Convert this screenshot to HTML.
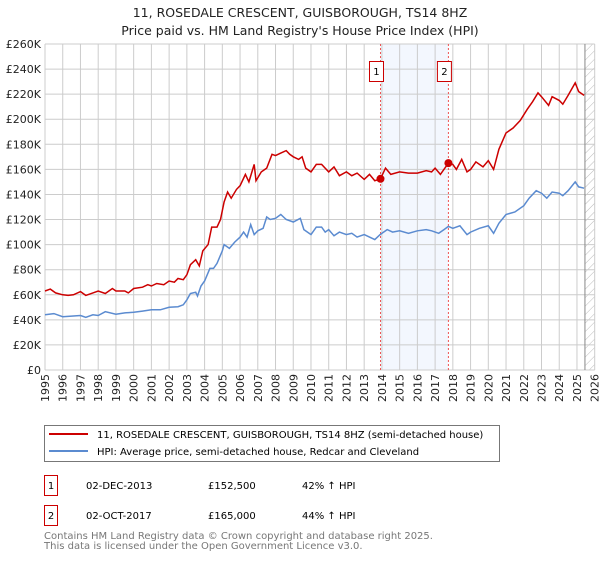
<!DOCTYPE html>
<html><head><meta charset="utf-8"><style>
body{margin:0;background:#fff;font-family:"Liberation Sans","DejaVu Sans",sans-serif;}
svg text{font-family:"DejaVu Sans","Liberation Sans",sans-serif;}
</style></head><body>
<svg id="chart" width="600" height="560" xmlns="http://www.w3.org/2000/svg">
<text x="300" y="17" font-size="12.5" text-anchor="middle" fill="#222">11, ROSEDALE CRESCENT, GUISBOROUGH, TS14 8HZ</text>
<text x="300" y="35" font-size="12.5" text-anchor="middle" fill="#222">Price paid vs. HM Land Registry's House Price Index (HPI)</text>
<defs><pattern id="hatch" patternUnits="userSpaceOnUse" width="6" height="6" patternTransform="rotate(45)"><line x1="0" y1="0" x2="0" y2="6" stroke="#bbb" stroke-width="1"/></pattern></defs>
<g id="grid"></g><g id="marks"></g><g id="axes"></g>
<g>
<rect x="44.5" y="425.5" width="455" height="36" fill="#fff" stroke="#777"/>
<line x1="49" y1="434" x2="88" y2="434" stroke="#cc0000" stroke-width="2"/>
<text x="97" y="438" font-size="10" fill="#000">11, ROSEDALE CRESCENT, GUISBOROUGH, TS14 8HZ (semi-detached house)</text>
<line x1="49" y1="451" x2="88" y2="451" stroke="#5b8bd0" stroke-width="2"/>
<text x="97" y="455" font-size="10" fill="#000">HPI: Average price, semi-detached house, Redcar and Cleveland</text>
</g>
<g font-size="10" fill="#000">
<rect x="44.5" y="475.5" width="13" height="20" fill="none" stroke="#cc0000"/><text x="51" y="489" text-anchor="middle">1</text>
<text x="86" y="489">02-DEC-2013</text><text x="208" y="489">£152,500</text><text x="302" y="489">42% ↑ HPI</text>
<rect x="44.5" y="505.5" width="13" height="20" fill="none" stroke="#cc0000"/><text x="51" y="519" text-anchor="middle">2</text>
<text x="86" y="519">02-OCT-2017</text><text x="208" y="519">£165,000</text><text x="302" y="519">44% ↑ HPI</text>
</g>
<text x="44" y="539" font-size="10" fill="#777">Contains HM Land Registry data © Crown copyright and database right 2025.</text>
<text x="44" y="549" font-size="10" fill="#777">This data is licensed under the Open Government Licence v3.0.</text>
</svg>
<script>
const hpiYears=[1995,1995.5,1996,1996.5,1997,1997.3,1997.7,1998,1998.4,1999,1999.5,2000,2000.5,2001,2001.5,2002,2002.5,2002.8,2003,2003.2,2003.5,2003.6,2003.8,2004,2004.3,2004.5,2004.7,2005,2005.1,2005.4,2005.7,2006,2006.2,2006.4,2006.6,2006.8,2007,2007.3,2007.5,2007.7,2008,2008.3,2008.6,2009,2009.4,2009.6,2010,2010.3,2010.6,2010.8,2011,2011.3,2011.6,2012,2012.3,2012.6,2013,2013.3,2013.6,2013.9,2014.3,2014.6,2015,2015.5,2016,2016.5,2016.8,2017.2,2017.5,2017.75,2018,2018.4,2018.8,2019,2019.5,2020,2020.3,2020.6,2021,2021.5,2022,2022.3,2022.7,2023,2023.3,2023.6,2024,2024.2,2024.5,2024.9,2025.1,2025.4];
const hpiValues=[44,45,42.5,43,43.5,42,44,43.5,46.5,44.5,45.5,46,47,48,48,50,50.5,52,56,61,62,59,67,71,81,81,85,95,100,97,102,106,110,106,116,108,111,113,122,120,121,124,120,118,121,112,108,114,114,110,112,107,110,108,109,106,108,106,104,108,112,110,111,109,111,112,111,109,112,114.5,113,115,108,110,113,115,109,117,124,126,131,137,143,141,137,142,141,139,143,150,146,145];
const priceYears=[1995,1995.3,1995.6,1996,1996.3,1996.6,1997,1997.3,1997.7,1998,1998.4,1998.8,1999,1999.5,1999.7,2000,2000.5,2000.8,2001,2001.3,2001.7,2002,2002.3,2002.5,2002.8,2003,2003.2,2003.5,2003.7,2003.9,2004.2,2004.4,2004.7,2004.9,2005.1,2005.3,2005.5,2005.8,2006,2006.3,2006.5,2006.8,2006.9,2007.2,2007.5,2007.8,2008,2008.3,2008.6,2008.8,2009,2009.3,2009.5,2009.7,2010,2010.3,2010.6,2011,2011.3,2011.6,2012,2012.3,2012.6,2013,2013.3,2013.6,2013.92,2014.2,2014.5,2015,2015.5,2016,2016.5,2016.8,2017,2017.3,2017.75,2018,2018.2,2018.5,2018.8,2019,2019.3,2019.7,2020,2020.3,2020.6,2021,2021.4,2021.8,2022.2,2022.5,2022.8,2023,2023.4,2023.6,2024,2024.2,2024.5,2024.9,2025.1,2025.4];
const priceValues=[63,64.5,61.5,60,59.5,60,62.5,59.5,61.5,63,61,65,63,63,61.5,65,66,68,67,69,68,71,70,73,72,76,84,88,83,95,100,114,114,120,134,142,137,144,147,156,150,164,151,158,161,172,171,173,175,172,170,168,170,161,158,164,164,158,162,155,158,155,157,152,156,151,152.5,161,156,158,157,157,159,158,161,156,165,164,160,168,158,160,166,162,167,160,176,189,193,199,208,214,221,218,211,218,215,212,219,229,222,219];
const saleYears=[2013.92,2017.75];
const saleValues=[152.5,165];
const saleLabels=["1","2"];
const yTicks=[0,20,40,60,80,100,120,140,160,180,200,220,240,260];
const xTicks=[1995,1996,1997,1998,1999,2000,2001,2002,2003,2004,2005,2006,2007,2008,2009,2010,2011,2012,2013,2014,2015,2016,2017,2018,2019,2020,2021,2022,2023,2024,2025,2026];
const dataEnd=2025.45;

const L=45,R=594.7,T=44,B=370;
const xS=y=>L+(y-1995)/(2026-1995)*(R-L);
const yS=v=>B-v/260*(B-T);
const NS='http://www.w3.org/2000/svg';
function mk(tag,attrs,parent){const e=document.createElementNS(NS,tag);for(const k in attrs)e.setAttribute(k,attrs[k]);parent.appendChild(e);return e;}
const grid=document.getElementById('grid'),marks=document.getElementById('marks'),axes=document.getElementById('axes');
const band=mk('rect',{x:xS(saleYears[0]),y:T,width:xS(saleYears[1])-xS(saleYears[0]),height:B-T,fill:'#eef3fd',opacity:0.7},grid);


const hatch=mk('rect',{x:xS(dataEnd),y:T,width:R-xS(dataEnd),height:B-T,fill:'url(#hatch)'},grid);


yTicks.forEach(v=>{
  const g=mk('line',{x1:L,x2:R,y1:yS(v),y2:yS(v),stroke:'#ccc','stroke-width':1},grid);
  
  
  const t=mk('text',{x:L-4,y:yS(v)+4,'font-size':11,'text-anchor':'end',fill:'#222'},axes);
  t.textContent=v===0?'£0':'£'+v+'K';
  
  
});
xTicks.forEach(yr=>{
  const g=mk('line',{x1:xS(yr),x2:xS(yr),y1:T,y2:B,stroke:'#ccc','stroke-width':1},grid);
  
  
  const x=xS(yr),y=B+4;
  const t=mk('text',{x:x+4,y:y,'font-size':11,'text-anchor':'end',fill:'#222',transform:`rotate(-90 ${x+4} ${y})`},axes);
  t.textContent=yr;
  
  
});
const endLine=mk('line',{x1:xS(dataEnd),x2:xS(dataEnd),y1:T,y2:B,stroke:'#888','stroke-width':1},grid);


saleYears.forEach((yr,i)=>{
  const l=mk('line',{x1:xS(yr),x2:xS(yr),y1:T,y2:B,stroke:'#ee5555','stroke-width':1,'stroke-dasharray':'2,2'},grid);
  
  
  const r=mk('rect',{x:xS(yr)-11,y:61.5,width:14,height:20,fill:'#fff',stroke:'#cc0000'},marks);
  
  
  const t=mk('text',{x:xS(yr)-4,y:75,'font-size':10,'text-anchor':'middle',fill:'#000'},marks);
  t.textContent=saleLabels[i];
  
  
});
function path(xs,vs){return xs.map((x,i)=>(i?'L':'M')+xS(x).toFixed(1)+','+yS(vs[i]).toFixed(1)).join('');}
const hp=mk('path',{d:path(hpiYears,hpiValues),fill:'none',stroke:'#5b8bd0','stroke-width':1.5},marks);


const pp=mk('path',{d:path(priceYears,priceValues),fill:'none',stroke:'#cc0000','stroke-width':1.5},marks);


saleYears.forEach((yr,i)=>{
  const c=mk('circle',{cx:xS(yr),cy:yS(saleValues[i]),r:4,fill:'#cc0000'},marks);
  
  
});
</script>
</body></html>
